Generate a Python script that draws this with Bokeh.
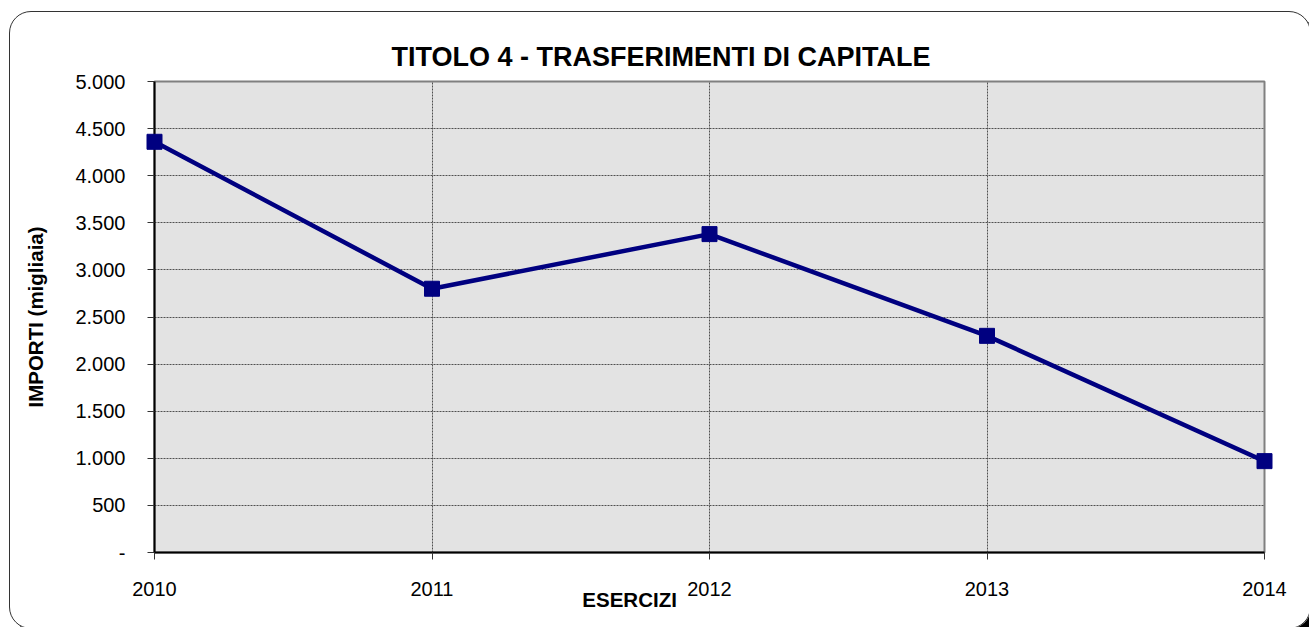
from bokeh.plotting import figure
from bokeh.models import Range1d, FixedTicker, InlineStyleSheet
from bokeh.core.properties import value
from bokeh.embed import file_html
from bokeh.resources import INLINE

# --- data -------------------------------------------------------------
years = [2010, 2011, 2012, 2013, 2014]
importi = [4360, 2800, 3380, 2300, 970]          # migliaia di euro

y_ticks = [0, 500, 1000, 1500, 2000, 2500, 3000, 3500, 4000, 4500, 5000]
y_tick_labels = ["-", "500", "1.000", "1.500", "2.000", "2.500",
                 "3.000", "3.500", "4.000", "4.500", "5.000"]

title_text = "TITOLO 4 - TRASFERIMENTI DI CAPITALE"
y_title = "IMPORTI (migliaia)"
x_title = "ESERCIZI"

FONT = "Liberation Sans"
NAVY = "#000080"

p = figure(
    width=1309, height=627,
    x_range=Range1d(years[0], years[-1]),
    y_range=Range1d(y_ticks[0], y_ticks[-1]),
    output_backend="svg", toolbar_location=None,
    min_border_left=154, min_border_right=45,
    min_border_top=81, min_border_bottom=75,
    background_fill_color="#E3E3E3", border_fill_color="white",
)

# chart title, placed a little left of the frame centre
p.title.text = title_text
p.title.align = "left"
p.title.offset = 237
p.title.standoff = 20
p.title.text_font = FONT
p.title.text_font_size = "27px"
p.title.text_font_style = "bold"
p.title.text_color = "black"

# frame: grey top/right edges, black axes left/bottom
p.outline_line_color = "#808080"
p.outline_line_width = 2

for ax in (p.xaxis[0], p.yaxis[0]):
    ax.axis_line_color = "black"
    ax.axis_line_width = 2
    ax.major_tick_line_color = "#333333"
    ax.major_tick_in = 0
    ax.major_tick_out = 7
    ax.minor_tick_line_color = None
    ax.major_label_text_font = FONT
    ax.major_label_text_font_size = "20px"
    ax.major_label_text_color = "black"

p.xaxis.ticker = FixedTicker(ticks=years)
p.xaxis.major_label_overrides = {y: str(y) for y in years}
p.xaxis.major_label_standoff = 22

p.yaxis.ticker = FixedTicker(ticks=y_ticks)
p.yaxis.major_label_overrides = dict(zip(y_ticks, y_tick_labels))
p.yaxis.major_label_standoff = 22
p.yaxis.axis_label = y_title
p.yaxis.axis_label_text_font = FONT
p.yaxis.axis_label_text_font_size = "20.5px"
p.yaxis.axis_label_text_font_style = "bold"
p.yaxis.axis_label_text_color = "black"
p.yaxis.axis_label_standoff = 25

for g in (p.xgrid[0], p.ygrid[0]):
    g.grid_line_color = "#505050"
    g.grid_line_dash = "2 1"
    g.grid_line_width = 1
p.xgrid.ticker = FixedTicker(ticks=years)
p.ygrid.ticker = FixedTicker(ticks=y_ticks)

# series
p.line(years, importi, line_color=NAVY, line_width=4.5)
p.scatter(years, importi, marker="square", size=15,
          fill_color=NAVY, line_color=NAVY, level="overlay")

# x-axis caption, sitting just left of the middle tick label
p.text(x=[2011.712], y=[-499], text=[x_title], text_font=value(FONT),
       text_font_size="20.5px", text_font_style="bold",
       text_align="center", text_baseline="middle",
       text_color="black", level="overlay")

# rounded outer box around the whole chart
p.stylesheets = [InlineStyleSheet(css="""
:host { position: relative; overflow: hidden; }
:host::after {
  content: ""; position: absolute; left: 9px; top: 11px;
  width: 1302px; height: 618px; box-sizing: border-box;
  border: 1.5px solid #333; border-radius: 22px;
  box-shadow: 8px 8px 0 #000; pointer-events: none;
}
""")]

open("out.html", "w").write(file_html(p, INLINE))
